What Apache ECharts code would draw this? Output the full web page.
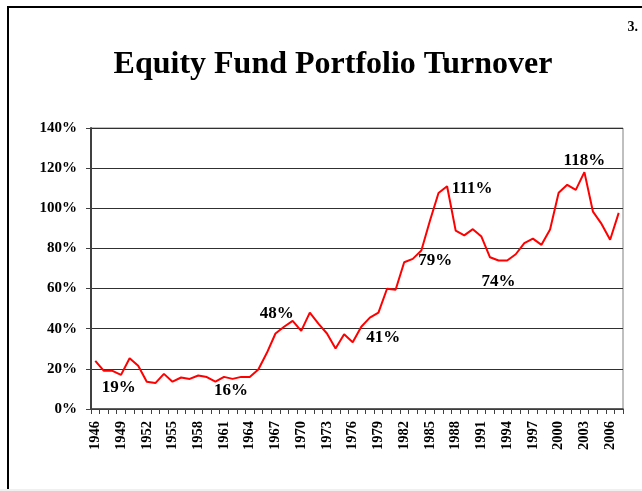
<!DOCTYPE html>
<html>
<head>
<meta charset="utf-8">
<script src="https://cdn.jsdelivr.net/npm/echarts@6/dist/echarts.min.js"></script>
<style>
  html, body { margin: 0; padding: 0; background: #fff; }
  #chart { width: 642px; height: 491px; }
</style>
</head>
<body>
<div id="chart"></div>
<script>
// years 1946..2007
const years = [];
for (let y = 1946; y <= 2007; y++) years.push(String(y));

// turnover, percent
const turnover = [
  24, 19, 19, 17, 25.3, 21.5, 13.6, 12.9, 17.5, 13.6,
  15.7, 15, 16.7, 15.9, 13.6, 16, 15, 16, 16, 19.7,
  28, 37.6, 41, 43.9, 38.9, 48, 42.5, 37.6, 30.1, 37.2,
  33.3, 41, 45.5, 48, 59.9, 59.4, 73.1, 74.8, 79, 93.8,
  107.6, 111, 88.9, 86.5, 89.6, 85.9, 75.6, 74, 74, 77.1,
  82.6, 84.9, 81.8, 89.4, 107.7, 111.7, 109.2, 118, 98.3, 92.2,
  84.3, 97.7
];

// annotated points: [year, value, label offset]
const callouts = [
  ['1947', 19, [15, 17]],
  ['1961', 16, [7, 14]],
  ['1971', 48, [-33, 1]],
  ['1977', 41, [22, 11]],
  ['1984', 79, [14, 10]],
  ['1987', 111, [25, 2]],
  ['1993', 74, [0, 21]],
  ['2003', 118, [0, -12]]
];

const yTicks = [0, 20, 40, 60, 80, 100, 120, 140];

const font = '"Liberation Serif", "Times New Roman", serif';
const chart = echarts.init(document.getElementById('chart'));

chart.setOption({
  animation: false,
  backgroundColor: '#fff',
  textStyle: { fontFamily: font },
  title: {
    text: 'Equity Fund Portfolio Turnover',
    left: 328,
    top: 44,
    textAlign: 'center',
    textStyle: { fontFamily: font, fontSize: 32, fontWeight: 'bold', color: '#000' }
  },
  graphic: [
    {
      type: 'rect',
      shape: { x: 8, y: 7, width: 700, height: 520 },
      style: { fill: 'none', stroke: '#000', lineWidth: 2 },
      z: 100
    },
    {
      type: 'rect',
      shape: { x: 0, y: 489, width: 642, height: 2 },
      style: { fill: '#f0f0f0' },
      z: 101
    },
    {
      type: 'text',
      right: 4,
      top: 20,
      style: { text: '3.', font: 'bold 14px ' + font, fill: '#000' },
      z: 100
    }
  ],
  grid: {
    left: 91,
    right: 19,
    top: 128,
    bottom: 82,
    show: true,
    borderColor: '#808080',
    borderWidth: 1
  },
  xAxis: {
    type: 'category',
    data: years,
    boundaryGap: true,
    axisLine: { lineStyle: { color: '#404040', width: 1.5 } },
    axisTick: { show: true, interval: 0, length: 5, lineStyle: { color: '#404040' } },
    axisLabel: {
      interval: 2,
      rotate: 90,
      margin: 12,
      fontFamily: font,
      fontSize: 14.5,
      fontWeight: 'bold',
      color: '#000'
    },
    splitLine: { show: false }
  },
  yAxis: {
    type: 'value',
    min: 0,
    max: 140,
    interval: 20,
    axisLine: { show: true, lineStyle: { color: '#404040', width: 2 } },
    axisTick: { show: true, length: 5, lineStyle: { color: '#404040' } },
    axisLabel: {
      margin: 14,
      fontFamily: font,
      fontSize: 15,
      fontWeight: 'bold',
      color: '#000',
      formatter: v => (yTicks.indexOf(v) >= 0 ? v + '%' : '')
    },
    splitLine: { show: true, lineStyle: { color: '#303030', width: 1 } }
  },
  series: [
    {
      type: 'line',
      data: turnover,
      showSymbol: false,
      symbol: 'none',
      lineStyle: { color: '#ff0000', width: 2 },
      itemStyle: { color: '#ff0000' },
      markPoint: {
        symbol: 'circle',
        symbolSize: 1,
        itemStyle: { color: 'rgba(0,0,0,0)' },
        label: {
          show: true,
          position: 'inside',
          fontFamily: font,
          fontSize: 17,
          fontWeight: 'bold',
          color: '#000'
        },
        data: callouts.map(c => ({
          coord: [c[0], c[1]],
          value: c[1] + '%',
          label: { offset: c[2], formatter: c[1] + '%' }
        }))
      }
    }
  ]
});
</script>
</body>
</html>
